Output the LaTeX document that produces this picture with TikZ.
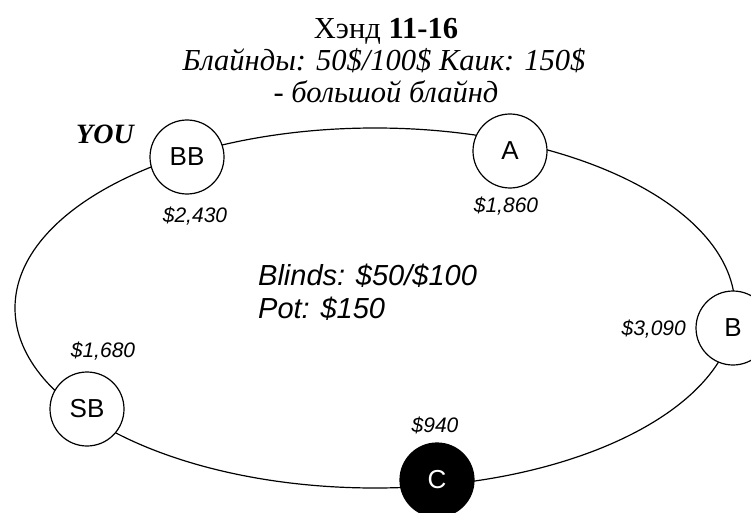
\documentclass[tikz,border=0pt]{standalone}
\usepackage{fontspec}
\setmainfont{Liberation Serif}
\newfontfamily\arialf{Liberation Sans}
\begin{document}
\begin{tikzpicture}[x=1pt,y=-1pt,
  seat/.style={circle,draw,line width=1.2pt,fill=white,minimum size=74pt,inner sep=0pt,
    font=\arialf\fontsize{26}{28}\selectfont},
  dark/.style={seat,fill=black,text=white},
  money/.style={inner sep=0pt,font=\arialf\itshape\fontsize{21}{24}\selectfont},
  info/.style={inner sep=0pt,anchor=base west,font=\arialf\itshape\fontsize{29}{33}\selectfont},
  ttl/.style={inner sep=0pt,anchor=base,font=\fontsize{30.5}{33}\selectfont}]
\useasboundingbox (0,0) rectangle (751,513);
\draw[line width=1.2pt] (375,308) ellipse [x radius=360pt, y radius=180pt];
\node[ttl] (t1) at (386,39) {Хэнд \textbf{11-16}};
\node[ttl] (t2) at (384,71) {\itshape Блайнды: 50\$/100\$ Каик: 150\$};
\node[ttl] (t3) at (386,103) {\itshape - большой блайнд};
\node[inner sep=0pt,anchor=base west,font=\bfseries\itshape\fontsize{28}{30}\selectfont] (you) at (76,143) {YOU};
\node[seat] (BB) at (187,157) {BB};
\node[seat] (A) at (510,151) {A};
\node[seat] (B) at (733,328) {B};
\node[seat] (SB) at (87,409) {SB};
\node[dark] (C) at (437,480) {C};
\node[money,anchor=base] (mBB) at (195,222) {\$2,430};
\node[money,anchor=base] (mA) at (506,212) {\$1,860};
\node[money,anchor=base east] (mB) at (686,335) {\$3,090};
\node[money,anchor=base] (mSB) at (103,357) {\$1,680};
\node[money,anchor=base] (mC) at (435,432) {\$940};
\node[info] (blinds) at (258,285) {Blinds: \$50/\$100};
\node[info] (pot) at (258,318) {Pot: \$150};
\end{tikzpicture}
\end{document}
